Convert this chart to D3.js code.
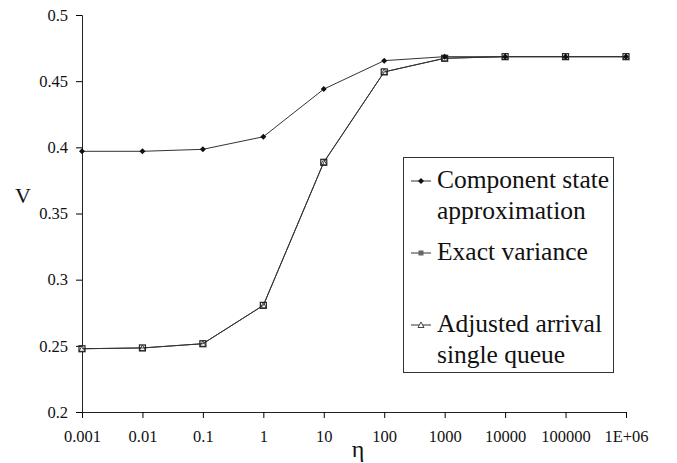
<!DOCTYPE html>
<html>
<head>
<meta charset="utf-8">
<script src="https://cdn.jsdelivr.net/npm/d3@7"></script>
<style>
  body { margin: 0; background: #fff; }
  svg text { font-family: "Times New Roman", "Liberation Serif", Tinos, "DejaVu Serif", serif !important; }
</style>
</head>
<body>
<svg id="chart" width="677" height="463"></svg>
<script>
// eta values (category axis, as in the original spreadsheet chart)
const etaLabels = ["0.001", "0.01", "0.1", "1", "10", "100", "1000", "10000", "100000", "1E+06"];
const componentState = [0.397, 0.397, 0.3985, 0.408, 0.444, 0.4655, 0.4685, 0.4685, 0.4685, 0.4685];
const exactVariance = [0.2478, 0.2484, 0.2516, 0.2806, 0.3887, 0.457, 0.4673, 0.4685, 0.4685, 0.4685];
const adjustedArrival = [0.2478, 0.2484, 0.2516, 0.2806, 0.3887, 0.457, 0.4673, 0.4685, 0.4685, 0.4685];
const yTicks = [0.2, 0.25, 0.3, 0.35, 0.4, 0.45, 0.5];
const legendNames = [["Component state", "approximation"], ["Exact variance"], ["Adjusted arrival", "single queue"]];

const svg = d3.select("#chart");
const lineColor = "#333";

const x = d3.scalePoint().domain(etaLabels).range([82, 626]).padding(0);
const y = d3.scaleLinear().domain([0.2, 0.5]).range([412, 15]);

// axes
svg.append("g")
  .attr("transform", "translate(0,412)")
  .call(d3.axisBottom(x).tickSizeOuter(0).tickSize(6).tickPadding(12))
  .call(g => g.select(".domain").attr("stroke", "#222"))
  .call(g => g.selectAll("text").attr("font-size", 16.5).attr("fill", "#111"));

svg.append("g")
  .attr("transform", "translate(82,0)")
  .call(d3.axisLeft(y).tickValues(yTicks).tickFormat(d3.format("")).tickSizeOuter(0).tickSize(6).tickPadding(8))
  .call(g => g.select(".domain").attr("stroke", "#222"))
  .call(g => g.selectAll("text").attr("font-size", 16.5).attr("fill", "#111"));

// axis titles
svg.append("text").attr("x", 23).attr("y", 203).attr("text-anchor", "middle")
  .attr("font-size", 22).attr("fill", "#111").text("V");
svg.append("text").attr("x", 358).attr("y", 457).attr("text-anchor", "middle")
  .attr("font-size", 24).attr("fill", "#111").text("η");

const line = d3.line().x((d, i) => x(etaLabels[i])).y(d => y(d));

function drawSeries(values, marker) {
  svg.append("path").datum(values)
    .attr("d", line).attr("fill", "none")
    .attr("stroke", lineColor).attr("stroke-width", 1);
  const pts = svg.append("g").selectAll("g").data(values).enter().append("g")
    .attr("transform", (d, i) => `translate(${x(etaLabels[i])},${y(d)})`);
  marker(pts);
}

const diamond = sel => sel.append("path").attr("d", "M0,-3L3,0L0,3L-3,0Z").attr("fill", "#111");
const square = sel => sel.append("rect").attr("x", -3).attr("y", -3).attr("width", 6).attr("height", 6)
  .attr("fill", "none").attr("stroke", "#222").attr("stroke-width", 1.2);
const triangle = sel => sel.append("path").attr("d", "M0,-3L3,2.5L-3,2.5Z")
  .attr("fill", "#fff").attr("stroke", "#444").attr("stroke-width", 1);

drawSeries(adjustedArrival, triangle);
drawSeries(exactVariance, square);
drawSeries(componentState, diamond);

// legend
const legend = svg.append("g");
legend.append("rect").attr("x", 403.5).attr("y", 157.5).attr("width", 210).attr("height", 215)
  .attr("fill", "#fff").attr("stroke", "#333").attr("stroke-width", 1);

const legendY = [188, 260, 332];
const legendMarkers = [diamond, sel => sel.append("rect").attr("x", -2.5).attr("y", -2.5).attr("width", 5).attr("height", 5).attr("fill", "#666"), triangle];
legendNames.forEach((lines, i) => {
  const g = legend.append("g");
  g.append("line").attr("x1", 411).attr("x2", 431).attr("y1", legendY[i] - 7).attr("y2", legendY[i] - 7)
    .attr("stroke", lineColor).attr("stroke-width", 1);
  legendMarkers[i](g.append("g").attr("transform", `translate(421,${legendY[i] - 7})`));
  lines.forEach((t, j) => {
    g.append("text").attr("x", 437).attr("y", legendY[i] + j * 31)
      .attr("font-size", 25.5).attr("fill", "#111").text(t);
  });
});
</script>
</body>
</html>
